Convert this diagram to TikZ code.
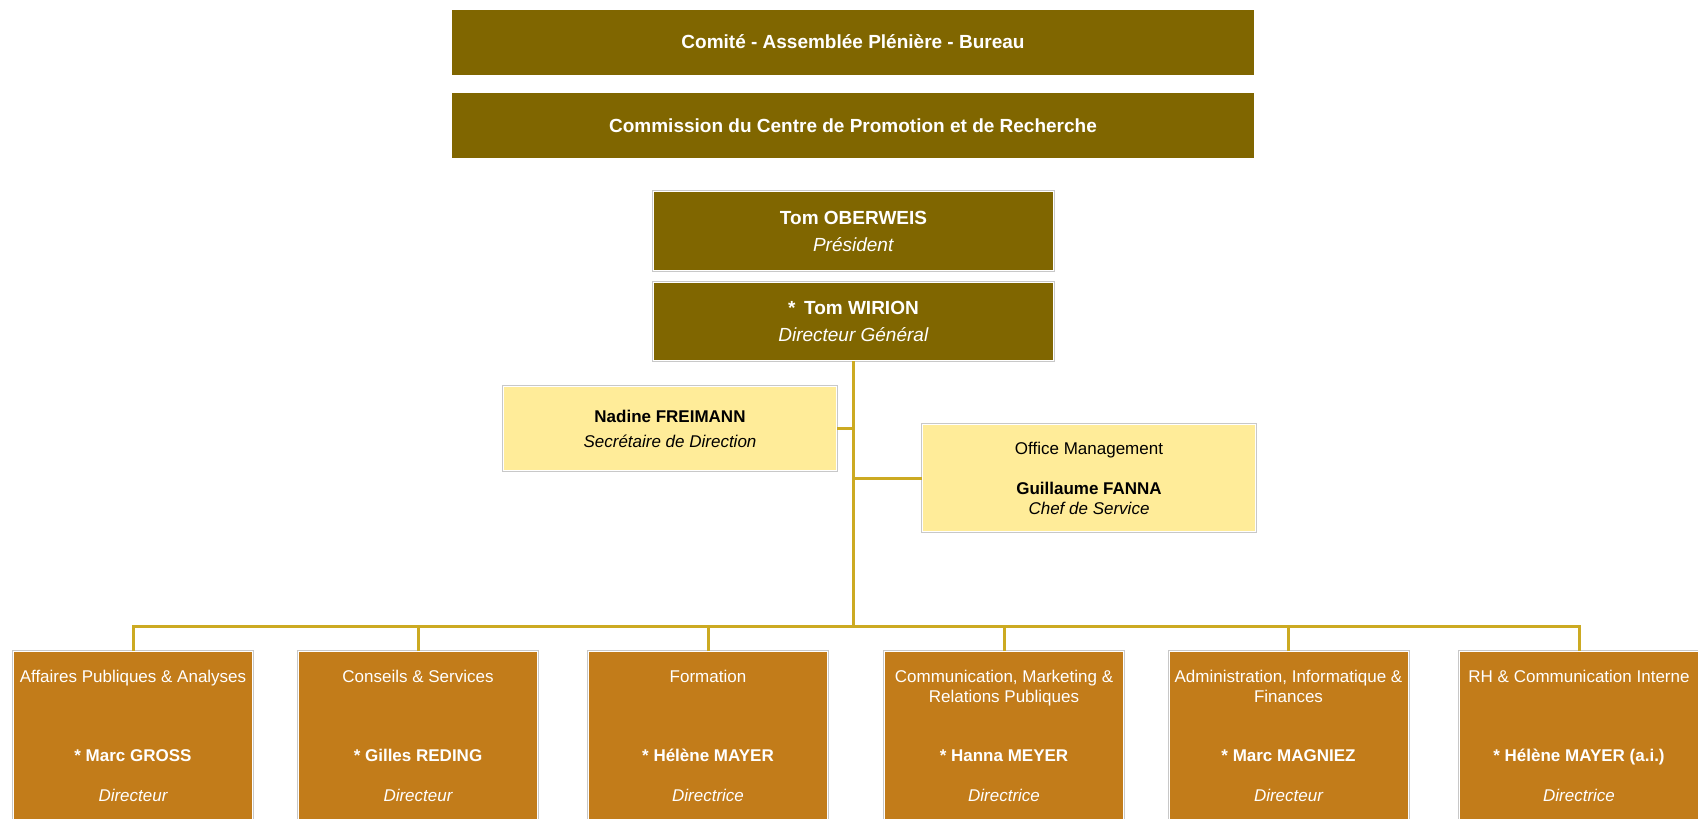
\documentclass[tikz,border=0pt]{standalone}
\usepackage{fontspec}
\setmainfont{Liberation Sans}
\usetikzlibrary{positioning}
\definecolor{oliveBox}{RGB}{128,102,0}
\definecolor{unitBox}{RGB}{194,124,26}
\definecolor{assistBox}{RGB}{255,236,153}
\definecolor{linkGold}{RGB}{204,170,34}
\definecolor{frameGray}{RGB}{200,200,200}

\begin{document}
\begin{tikzpicture}[x=1pt, y=-1pt]
 \tikzstyle{framed}=[rectangle, inner sep=0pt, preaction={draw=frameGray, line width=3pt}, draw=white, line width=1pt]
 \tikzstyle{barnode}=[rectangle, inner sep=0pt, fill=oliveBox, text=white, minimum width=802pt, minimum height=65pt, font=\bfseries\fontsize{19}{28}\selectfont]
 \tikzstyle{headnode}=[framed, fill=oliveBox, text=white, minimum width=400pt, align=center, font=\fontsize{19}{27}\selectfont]
 \tikzstyle{staffnode}=[framed, fill=assistBox, text=black, minimum width=333pt, align=center, font=\fontsize{17}{25}\selectfont]
 \tikzstyle{unitnode}=[framed, fill=unitBox, minimum width=239pt, minimum height=200pt]
 \tikzstyle{unittext}=[inner sep=0pt, text=white, align=center]
 \tikzstyle{link}=[draw=linkGold, line width=3pt]

 \useasboundingbox (0,0) rectangle (1698,819);
 \clip (0,0) rectangle (1698,819);
 \fill[white] (0,0) rectangle (1698,819);

 % governing bodies
 \node[barnode] (comite) at (853, 42) {Comité - Assemblée Plénière - Bureau};
 \node[barnode] (commission) at (853, 125.5) {Commission du Centre de Promotion et de Recherche};

 % direction
 \node[headnode, minimum height=79pt] (president) at (853.5, 231) {\textbf{Tom OBERWEIS}\\\textit{Président}};
 \node[headnode, minimum height=78pt] (dg) at (853.5, 321.5) {\textbf{*\,\ Tom WIRION}\\\textit{Directeur Général}};

 % staff
 \node[staffnode, minimum height=84pt] (secr) at (670, 428.5) {\textbf{Nadine FREIMANN}\\\textit{Secrétaire de Direction}};
 \node[staffnode, minimum height=107pt, font=\fontsize{17}{20}\selectfont] (office) at (1089, 478) {Office Management\\[20pt]\textbf{Guillaume FANNA}\\\textit{Chef de Service}};

 \coordinate (hub) at (853.5, 626);
 \draw[link] (dg.south) -- (hub);
 \draw[link] (secr.east) -- (secr.east -| hub);
 \draw[link] (office.west) -- (office.west -| hub);

 % departments
 \foreach \i/\x/\utitle/\uhead/\urole in {
   1/133/{Affaires Publiques \& Analyses}/{Marc GROSS}/Directeur,
   2/418/{Conseils \& Services}/{Gilles REDING}/Directeur,
   3/708/{Formation}/{Hélène MAYER}/Directrice,
   4/1004/{Communication, Marketing \&\\Relations Publiques}/{Hanna MEYER}/Directrice,
   5/1288.5/{Administration, Informatique \&\\Finances}/{Marc MAGNIEZ}/Directeur,
   6/1579/{RH \& Communication Interne}/{Hélène MAYER (a.i.)}/Directrice} {
   \node[unitnode] (u\i) at (\x, 751.5) {};
   \node[unittext, anchor=north, font=\fontsize{17}{20}\selectfont] (t\i) at (\x, 670) {\utitle};
   \node[unittext, anchor=base, font=\bfseries\fontsize{17}{20}\selectfont] (n\i) at (\x, 761) {* \uhead};
   \node[unittext, anchor=base, font=\itshape\fontsize{17}{20}\selectfont] (r\i) at (\x, 801) {\urole};
   \draw[link] (u\i.north) |- (hub);
 }
\end{tikzpicture}
\end{document}
